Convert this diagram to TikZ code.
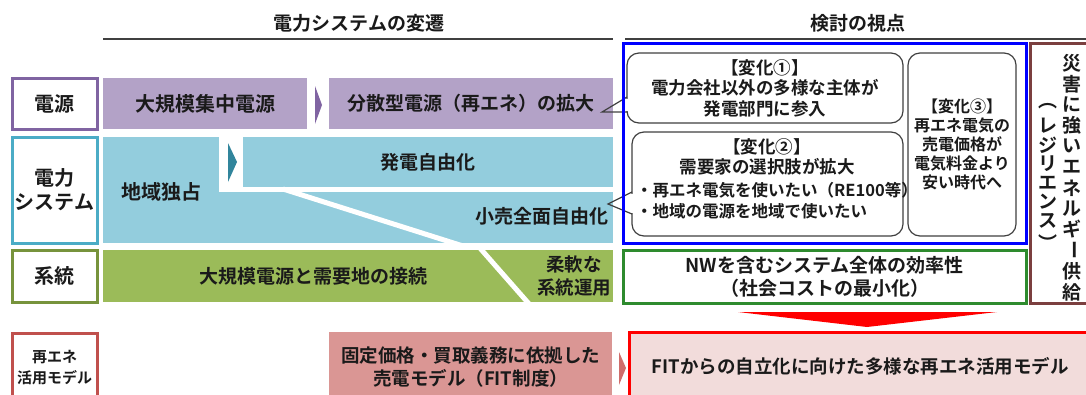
\documentclass[tikz,border=0pt]{standalone}
\usepackage{fontspec}
\setmainfont{Noto Sans CJK JP}[BoldFont={Noto Sans CJK JP Bold}]
\newcommand{\fz}[2]{\fontsize{#1}{#2}\selectfont\bfseries}
\definecolor{txt}{HTML}{1A1A1A}
\definecolor{rulec}{HTML}{404040}
\definecolor{purp}{HTML}{B3A2C7}
\definecolor{purpD}{HTML}{8064A2}
\definecolor{bluef}{HTML}{93CDDD}
\definecolor{blueL}{HTML}{4BACC6}
\definecolor{blueD}{HTML}{31859C}
\definecolor{greenf}{HTML}{9BBB59}
\definecolor{greenD}{HTML}{77933C}
\definecolor{greenR}{HTML}{2E8B2E}
\definecolor{pinkf}{HTML}{DA9694}
\definecolor{redD}{HTML}{C0504D}
\definecolor{redC}{HTML}{CF6D6B}
\definecolor{fitf}{HTML}{F2DCDB}
\definecolor{brownc}{HTML}{7B3F3F}
\definecolor{cgray}{HTML}{404040}
\tikzset{
  every node/.style={font=\fz{19}{23}, text=txt, inner sep=0pt, align=center},
  lbl/.style={draw, line width=3pt, fill=white, minimum width=85pt, font=\fz{20}{24}},
  band/.style={minimum width=10pt},
  callout/.style={draw=cgray, line width=1.2pt, fill=white, rounded corners=12pt},
  cline/.style={draw=cgray, line width=1.2pt, line join=miter},
  rule/.style={draw=rulec, line width=1.6pt},
  vt/.style={font=\fz{19}{20}}
}
\begin{document}
\begin{tikzpicture}[x=1pt,y=-1pt]
\useasboundingbox (0,0) rectangle (1086,394);
% titles
\node (t1) at (359,23) {電力システムの変遷};
\node (t2) at (858,23) {検討の視点};
\coordinate (r1a) at (103,39); \coordinate (r1b) at (613,39);
\coordinate (r2a) at (625,39); \coordinate (r2b) at (1086,39);
\draw[rule] (r1a) -- (r1b);
\draw[rule] (r2a) -- (r2b);

% row 1
\node[lbl, draw=purpD, minimum height=51pt] (lA) at (54.5,103.5) {電源};
\node[band, fill=purp, minimum width=204pt, minimum height=51pt, font=\fz{20}{24}] (pA1) at (205,103.5) {大規模集中電源};
\fill[purpD] (315,86) -- (322,105) -- (315,124) -- cycle;
\node[band, fill=purp, minimum width=284pt, minimum height=51pt] (pA2) at (471,103.5) {分散型電源（再エネ）の拡大};

% row 2
\node[lbl, draw=blueL, minimum height=106pt] (lB) at (54.5,190) {電力\\システム};
\fill[bluef] (103,137) rectangle (613,243);
\fill[white] (219,136) rectangle (243,191);
\fill[white] (219,187) rectangle (614,192);
\draw[white, line width=5pt] (283,189) -- (463,246);
\fill[blueD] (228,143) -- (237,162) -- (228,182) -- cycle;
\node[font=\fz{20}{24}] (tB1) at (161,192) {地域独占};
\node (tB2) at (428,162) {発電自由化};
\node[anchor=east] (tB3) at (609,216) {小売全面自由化};

% row 3
\node[lbl, draw=greenD, minimum height=52pt] (lC) at (54.5,276) {系統};
\fill[greenf] (103,250) rectangle (613,302);
\draw[white, line width=5pt] (479,247) -- (530,305);
\node (tC1) at (313,276) {大規模電源と需要地の接続};
\node[font=\fz{18.5}{23}] (tC2) at (574,276) {柔軟な\\系統運用};

% row 4
\node[lbl, draw=redD, minimum height=70pt, font=\fz{15}{21}] (lD) at (54.5,368) {再エネ\\活用モデル};
\node[band, fill=pinkf, minimum width=283pt, minimum height=70pt, font=\fz{18.5}{23}] (pD1) at (470.5,367) {固定価格・買取義務に依拠した\\売電モデル（FIT制度）};
\fill[redC] (619,352) -- (626,368) -- (619,385) -- cycle;
\node[draw=red, line width=3pt, fill=fitf, minimum width=470pt, minimum height=70pt] (pD2) at (864,367) {};
\node[font=\fz{18.5}{23}] (tD2) at (860,366) {FITからの自立化に向けた多様な再エネ活用モデル};
\fill[red] (738,312) -- (997,312) -- (867,327) -- cycle;

% right: callouts
\node[callout, minimum width=276pt, minimum height=70pt, font=\fz{17.5}{20.5}] (c1) at (765,88) {【変化①】\\電力会社以外の多様な主体が\\発電部門に参入};
\coordinate (tip1) at (602,112);
\coordinate (b1a) at (627,97); \coordinate (b1b) at (627,112);
\draw[white, line width=2.2pt] (627,98.5) -- (627,111);
\draw[cline] (b1a) -- (tip1) -- (b1b);

\node[callout, minimum width=271pt, minimum height=104pt] (c2) at (767.5,184) {};
\node[font=\fz{17.5}{20.5}] (c2a) at (767,147) {【変化②】};
\node[font=\fz{17.5}{20.5}] (c2b) at (767,167) {需要家の選択肢が拡大};
\node[anchor=west, font=\fz{16.5}{20}] (c2c) at (636,190) {・再エネ電気を使いたい（RE100等）};
\node[anchor=west, font=\fz{16.5}{20}] (c2d) at (636,211) {・地域の電源を地域で使いたい};
\coordinate (tip2) at (608,204);
\coordinate (b2a) at (632,192); \coordinate (b2b) at (632,214);
\draw[white, line width=2.2pt] (632,193.5) -- (632,212.5);
\draw[cline] (b2a) -- (tip2) -- (b2b);

\node[callout, minimum width=108pt, minimum height=183pt, font=\fz{16}{19}] (c3) at (962,144.5) {【変化③】\\再エネ電気の\\売電価格が\\電気料金より\\安い時代へ};

\node[draw=blue, line width=3pt, minimum width=403pt, minimum height=200pt] (bb) at (824.5,143) {};
\node[draw=greenR, line width=3pt, fill=white, minimum width=403pt, minimum height=53pt] (gb) at (824.5,276.5) {NWを含むシステム全体の効率性\\（社会コストの最小化）};

% brown box with vertical text
\node[draw=brownc, line width=3pt, minimum width=70pt, minimum height=260pt] (br) at (1065,173) {};
\foreach \c/\r [count=\i] in {災/0,害/0,に/0,強/0,い/0,エ/0,ネ/0,ル/0,ギ/0,ー/-90,供/0,給/0}
  \node[vt, rotate=\r] (va\i) at (1072,{63+(\i-1)*20.8}) {\c};
\node[vt] (vb0) at (1048,106) {︵};
\foreach \c [count=\i] in {レ,ジ,リ,エ,ン,ス}
  \node[vt] (vb\i) at (1048,{126+(\i-1)*19}) {\c};
\node[vt] (vb7) at (1048,243) {︶};
\end{tikzpicture}
\end{document}
